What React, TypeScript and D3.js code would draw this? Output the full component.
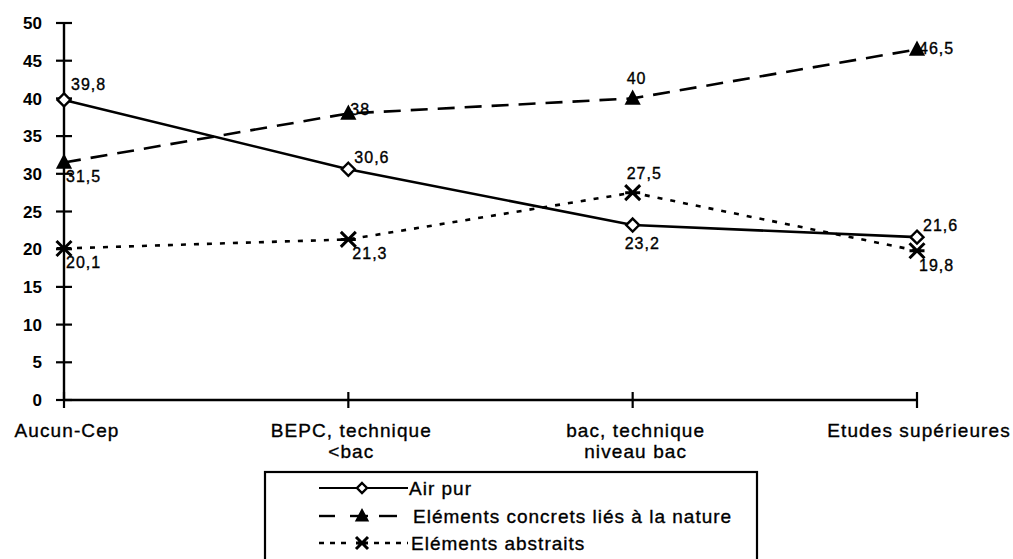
import React from "react";
import * as d3 from "d3";

const categories: string[][] = [
  ["Aucun-Cep"],
  ["BEPC, technique", "<bac"],
  ["bac, technique", "niveau bac"],
  ["Etudes supérieures"],
];
const airPur = [39.8, 30.6, 23.2, 21.6];
const concrets = [31.5, 38, 40, 46.5];
const abstraits = [20.1, 21.3, 27.5, 19.8];
const yTicks = [0, 5, 10, 15, 20, 25, 30, 35, 40, 45, 50];
const seriesNames = ["Air pur", "Eléments concrets liés à la nature", "Eléments abstraits"];

// label offsets per point [dx, dy] relative to marker
const labelOffsets: Record<string, [number, number][]> = {
  air: [[7, -10], [6, -6], [-8, 24], [6, -6]],
  conc: [[2, 20], [2, 2], [-6, -14], [2, 5]],
  abs: [[2, 20], [4, 20], [-6, -14], [2, 20]],
};

export default function App() {
  const W = 1013, H = 559;
  const x = d3.scalePoint<number>().domain([0, 1, 2, 3]).range([64, 917]);
  const y = d3.scaleLinear().domain([0, 50]).range([400, 23]);
  const line = d3
    .line<number>()
    .x((_, i) => x(i)!)
    .y((d) => y(d));
  const font = "Arial, 'Liberation Sans', sans-serif";

  const diamond = (cx: number, cy: number, r = 6.5) =>
    `M${cx},${cy - r}L${cx + r},${cy}L${cx},${cy + r}L${cx - r},${cy}Z`;
  const triangle = (cx: number, cy: number, r = 9) =>
    `M${cx},${cy - r}L${cx + r * 0.9},${cy + r * 0.7}L${cx - r * 0.9},${cy + r * 0.7}Z`;
  const star = (cx: number, cy: number, r = 7.5) =>
    `M${cx - r},${cy - r}L${cx + r},${cy + r}M${cx - r},${cy + r}L${cx + r},${cy - r}M${cx - r},${cy}L${cx + r},${cy}`;

  const fmt = (v: number) => String(v).replace(".", ",");
  const ts = { stroke: "#000", strokeWidth: 0.35 };

  return (
    <svg width={W} height={H} style={{ position: "absolute", left: 0, top: 0, background: "#fff" }} fontFamily={font}>
      <rect x={0} y={0} width={W} height={H} fill="#fff" />
      {/* axes */}
      <line x1={64} x2={64} y1={y(50)} y2={y(0)} stroke="#000" strokeWidth={2.4} />
      <line x1={64} x2={917} y1={y(0)} y2={y(0)} stroke="#000" strokeWidth={2.4} />
      {yTicks.map((t) => (
        <g key={t}>
          <line x1={56} x2={72} y1={y(t)} y2={y(t)} stroke="#000" strokeWidth={2.2} />
          <text x={42} y={y(t)} dy="0.36em" textAnchor="end" fontSize={17} fontWeight="bold">
            {t}
          </text>
        </g>
      ))}
      {categories.map((c, i) => (
        <g key={i}>
          <line x1={x(i)} x2={x(i)} y1={y(0) - 8} y2={y(0) + 8} stroke="#000" strokeWidth={2.2} />
          {c.map((s, k) => (
            <text
              key={k}
              x={x(i)! + (i === 3 ? 2 : 3)}
              y={437 + k * 21}
              textAnchor="middle"
              fontSize={19}
              letterSpacing={1.1}
              {...ts}
            >
              {s}
            </text>
          ))}
        </g>
      ))}
      {/* lines */}
      <path d={line(abstraits)!} fill="none" stroke="#000" strokeWidth={2.6} strokeDasharray="5,8" />
      <path d={line(concrets)!} fill="none" stroke="#000" strokeWidth={2.6} strokeDasharray="17,10" />
      <path d={line(airPur)!} fill="none" stroke="#000" strokeWidth={2.6} />
      {/* markers */}
      {abstraits.map((v, i) => (
        <path key={"a" + i} d={star(x(i)!, y(v))} stroke="#000" strokeWidth={3} fill="none" />
      ))}
      {concrets.map((v, i) => (
        <path key={"c" + i} d={triangle(x(i)!, y(v))} fill="#000" />
      ))}
      {airPur.map((v, i) => (
        <path key={"p" + i} d={diamond(x(i)!, y(v))} fill="#fff" stroke="#000" strokeWidth={2.4} />
      ))}
      {/* labels */}
      {[
        { k: "air", d: airPur },
        { k: "conc", d: concrets },
        { k: "abs", d: abstraits },
      ].map((s) =>
        s.d.map((v, i) => (
          <text
            key={s.k + i}
            x={x(i)! + labelOffsets[s.k][i][0]}
            y={y(v) + labelOffsets[s.k][i][1]}
            fontSize={16}
            letterSpacing={1}
            {...ts}
          >
            {fmt(v)}
          </text>
        ))
      )}
      {/* legend */}
      <rect x={265} y={472} width={492} height={100} fill="#fff" stroke="#000" strokeWidth={2.2} />
      <line x1={319} x2={408} y1={488} y2={488} stroke="#000" strokeWidth={2.2} />
      <path d={diamond(362, 488, 5)} fill="#fff" stroke="#000" strokeWidth={2.4} />
      <text x={409} y={488} dy="0.36em" fontSize={19} letterSpacing={1} {...ts}>{seriesNames[0]}</text>
      <line x1={319} x2={335} y1={516} y2={516} stroke="#000" strokeWidth={2.4} />
      <line x1={350} x2={368} y1={516} y2={516} stroke="#000" strokeWidth={2.4} />
      <line x1={379} x2={397} y1={516} y2={516} stroke="#000" strokeWidth={2.4} />
      <path d={triangle(362, 516, 8)} fill="#000" />
      <text x={413} y={516} dy="0.36em" fontSize={19} letterSpacing={1} {...ts}>{seriesNames[1]}</text>
      <line x1={319} x2={408} y1={543} y2={543} stroke="#000" strokeWidth={2.4} strokeDasharray="5,6" />
      <rect x={352} y={535} width={20} height={16} fill="#fff" />
      <path d={star(362, 543, 6)} stroke="#000" strokeWidth={3} fill="none" />
      <text x={411} y={543} dy="0.36em" fontSize={19} letterSpacing={1} {...ts}>{seriesNames[2]}</text>
    </svg>
  );
}
